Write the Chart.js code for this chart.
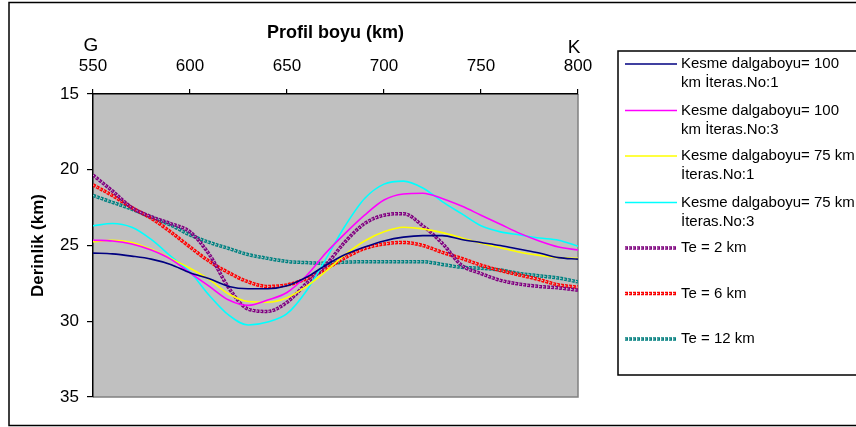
<!DOCTYPE html>
<html><head><meta charset="utf-8">
<script src="https://cdn.jsdelivr.net/npm/chart.js@4.4.1/dist/chart.umd.min.js"></script>
<style>html,body{margin:0;padding:0;background:#fff;}#wrap{width:856px;height:427px;position:relative;overflow:hidden}</style>
</head><body><div id="wrap"><canvas id="c" width="856" height="427"></canvas></div>
<script>
const profileKm = [550,560,570,580,590,600,610,620,630,640,650,660,670,680,690,700,710,720,730,740,750,760,770,780,790,800];
const xTickValues = [550,600,650,700,750,800];
const yTickValues = [15,20,25,30,35];
const endLabels = ['G','K'];

const cut100It1 = [25.5,25.55,25.7,25.9,26.25,26.8,27.2,27.7,27.85,27.85,27.65,27.1,26.3,25.6,25.1,24.7,24.45,24.35,24.35,24.6,24.8,25.0,25.25,25.5,25.8,25.9];
const cut100It3 = [24.65,24.7,24.9,25.3,25.9,26.8,27.7,28.6,28.95,28.6,28.1,27.0,25.5,24.2,23.0,22.0,21.6,21.55,21.9,22.4,23.0,23.6,24.2,24.7,25.1,25.3];
const cut75It1  = [24.75,24.65,24.8,25.25,25.85,26.5,27.25,28.2,28.7,28.75,28.45,27.7,26.7,25.6,24.7,24.1,23.8,23.9,24.15,24.5,24.85,25.15,25.45,25.65,25.8,25.85];
const cut75It3  = [23.7,23.55,23.8,24.6,25.7,26.75,28.3,29.6,30.25,30.05,29.5,28.0,25.9,23.7,21.9,20.95,20.75,21.2,22.1,22.9,23.7,24.1,24.3,24.5,24.65,25.05];
const te2  = [20.35,21.4,22.5,23.1,23.55,24.1,25.6,27.8,29.2,29.35,28.75,27.5,26.3,24.75,23.55,23.0,22.9,23.7,24.85,26.3,26.85,27.3,27.55,27.7,27.8,27.95];
const te6  = [21.0,21.7,22.5,23.2,24.1,25.1,26.05,26.8,27.4,27.7,27.6,27.2,26.55,25.8,25.2,24.9,24.8,25.0,25.45,25.85,26.3,26.65,26.95,27.25,27.6,27.75];
const te12 = [21.7,22.15,22.6,23.15,23.65,24.3,24.8,25.2,25.6,25.85,26.05,26.13,26.17,26.1,26.07,26.07,26.07,26.07,26.25,26.44,26.5,26.62,26.85,27.0,27.15,27.4];

const seriesNames = [
  ['Kesme dalgaboyu= 100','km İteras.No:1'],
  ['Kesme dalgaboyu= 100','km İteras.No:3'],
  ['Kesme dalgaboyu= 75 km','İteras.No:1'],
  ['Kesme dalgaboyu= 75 km','İteras.No:3'],
  ['Te = 2 km'],
  ['Te = 6 km'],
  ['Te = 12 km']
];
const seriesValues = [cut100It1, cut100It3, cut75It1, cut75It3, te2, te6, te12];
const seriesColors = ['#000080','#FF00FF','#FFFF00','#00FFFF','#800080','#FF0000','#008080'];
const seriesChain = [false,false,false,false,true,true,true];

const FONT = "'Liberation Sans', Arial, sans-serif";

const datasets = seriesValues.map((vals, i) => ({
  label: seriesNames[i].join(' '),
  data: profileKm.map((k, j) => ({x: k, y: vals[j]})),
  borderColor: seriesColors[i],
  backgroundColor: seriesColors[i],
  borderWidth: seriesChain[i] ? 3.5 : 1.6,
  borderDash: seriesChain[i] ? [3, 1] : [],
  pointRadius: 0,
  cubicInterpolationMode: 'monotone',
  fill: false,
  chain: seriesChain[i]
}));

const decor = {
  id: 'decor',
  beforeDraw(chart) {
    const ctx = chart.ctx, a = chart.chartArea;
    ctx.save();
    ctx.fillStyle = '#fff';
    ctx.fillRect(0, 0, chart.width, chart.height);
    ctx.strokeStyle = '#000'; ctx.lineWidth = 1.5;
    ctx.strokeRect(9, 2.5, 900, 423);
    ctx.fillStyle = '#C0C0C0';
    ctx.fillRect(a.left, a.top, a.right - a.left, a.bottom - a.top);
    ctx.strokeStyle = '#808080'; ctx.lineWidth = 1.5;
    ctx.beginPath();
    ctx.moveTo(a.right, a.top); ctx.lineTo(a.right, a.bottom); ctx.lineTo(a.left, a.bottom);
    ctx.stroke();
    ctx.restore();
  },
  afterDatasetDraw(chart, args) {
    const ds = chart.data.datasets[args.index];
    if (!ds.chain) return;
    const line = args.meta.dataset;
    const ctx = chart.ctx, a = chart.chartArea;
    try {
      ctx.save();
      ctx.beginPath(); ctx.rect(a.left, a.top, a.right - a.left, a.bottom - a.top); ctx.clip();
      ctx.strokeStyle = 'rgba(210,210,210,0.85)';
      ctx.lineWidth = 1;
      ctx.setLineDash([1.5, 2.5]);
      ctx.beginPath();
      line.path(ctx);
      ctx.stroke();
      ctx.restore();
    } catch (e) { ctx.restore(); }
  },
  afterDraw(chart) {
    const ctx = chart.ctx;
    const xs = chart.scales.x;
    ctx.save();
    ctx.fillStyle = '#000';
    ctx.font = '19px ' + FONT;
    ctx.textAlign = 'center'; ctx.textBaseline = 'middle';
    ctx.fillText(endLabels[0], xs.getPixelForValue(xTickValues[0]) - 2, 46);
    ctx.fillText(endLabels[1], xs.getPixelForValue(xTickValues[xTickValues.length - 1]) - 4, 48);
    // legend
    const bx = 618, by = 51;
    ctx.fillStyle = '#fff';
    ctx.fillRect(bx, by, 400, 324);
    ctx.strokeStyle = '#000'; ctx.lineWidth = 1.5;
    ctx.strokeRect(bx, by, 400, 324);
    const ys = [64, 110.5, 156, 202.5, 248, 293.5, 339];
    ctx.font = '15px ' + FONT;
    ctx.textAlign = 'left';
    chart.data.datasets.forEach((ds, i) => {
      const y = ys[i];
      ctx.save();
      ctx.strokeStyle = ds.borderColor;
      ctx.lineWidth = ds.chain ? 3.5 : 1.6;
      ctx.setLineDash(ds.chain ? [3, 1] : []);
      ctx.beginPath(); ctx.moveTo(625, y); ctx.lineTo(677, y); ctx.stroke();
      if (ds.chain) {
        ctx.strokeStyle = 'rgba(210,210,210,0.85)'; ctx.lineWidth = 1; ctx.setLineDash([1.5, 2.5]);
        ctx.beginPath(); ctx.moveTo(625, y); ctx.lineTo(677, y); ctx.stroke();
      }
      ctx.restore();
      ctx.fillStyle = '#000';
      seriesNames[i].forEach((t, k) => ctx.fillText(t, 681, y + k * 19));
    });
    ctx.restore();
  }
};

new Chart(document.getElementById('c'), {
  type: 'line',
  data: { datasets },
  options: {
    responsive: false,
    animation: false,
    devicePixelRatio: 1,
    layout: { padding: { left: 0, top: 0, right: 278, bottom: 30 } },
    plugins: { legend: { display: false }, tooltip: { enabled: false } },
    scales: {
      x: {
        type: 'linear', position: 'top', min: 550, max: 800,
        afterFit(s) { s.height = 94; },
        afterBuildTicks(s) { s.ticks = xTickValues.map(v => ({value: v})); },
        ticks: { color: '#000', font: { family: FONT, size: 17 }, padding: 12, maxRotation: 0 },
        grid: { drawOnChartArea: false, drawTicks: true, tickLength: 5, color: '#000', lineWidth: 1.2 },
        border: { display: true, color: '#000', width: 1.5 },
        title: { display: true, text: 'Profil boyu (km)', color: '#000', font: { family: FONT, size: 18, weight: 'bold' }, padding: { top: 22, bottom: 0 } }
      },
      y: {
        type: 'linear', position: 'left', min: 15, max: 35, reverse: true,
        afterFit(s) { s.width = 93; },
        afterBuildTicks(s) { s.ticks = yTickValues.map(v => ({value: v})); },
        ticks: { color: '#000', font: { family: FONT, size: 17 }, padding: 8 },
        grid: { drawOnChartArea: false, drawTicks: true, tickLength: 6, color: '#000', lineWidth: 1.2 },
        border: { display: true, color: '#000', width: 1.5 },
        title: { display: true, text: 'Derinlik (km)', color: '#000', font: { family: FONT, size: 17, weight: 'bold' }, padding: { top: 28, bottom: 0 } }
      }
    }
  },
  plugins: [decor]
});
</script></body></html>
